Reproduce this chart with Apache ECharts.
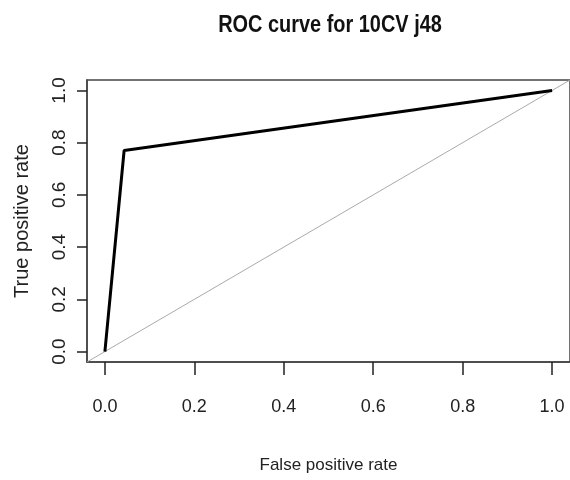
<!DOCTYPE html>
<html>
<head>
<meta charset="utf-8">
<script src="https://cdn.jsdelivr.net/npm/echarts@6/dist/echarts.min.js"></script>
<style>
  * { margin: 0; padding: 0; }
  body { background: #fff; }
  #main { width: 570px; height: 480px; }
</style>
</head>
<body>
<div id="main"></div>
<script>
  // ROC points (false positive rate, true positive rate)
  var fpr = [0, 0.043, 1];
  var tpr = [0, 0.77, 1];
  // chance line, drawn across the whole plot region like abline()
  var chanceX = [-0.04, 1.04];
  var chanceY = [-0.04, 1.04];
  var tickValues = [0, 0.2, 0.4, 0.6, 0.8, 1];

  var font = "'Liberation Sans', Arial, sans-serif";

  var rocData = fpr.map(function (x, i) { return [x, tpr[i]]; });
  var chanceData = chanceX.map(function (x, i) { return [x, chanceY[i]]; });

  var chart = echarts.init(document.getElementById('main'));
  chart.setOption({
    animation: false,
    graphic: [{
      // title, squeezed a bit to look like the narrow R font
      type: 'text',
      x: 330,
      y: 25,
      scaleX: 0.83,
      style: {
        text: 'ROC curve for 10CV j48',
        fontFamily: font, fontWeight: 'bold', fontSize: 24,
        fill: '#111', align: 'center', verticalAlign: 'middle'
      }
    }],
    grid: {
      left: 87, top: 80, right: -1, bottom: 118,
      show: true,
      borderColor: '#444',
      borderWidth: 1.5,
      containLabel: false
    },
    xAxis: {
      type: 'value',
      min: -0.04,
      max: 1.04,
      name: 'False positive rate',
      nameLocation: 'middle',
      nameGap: 95,
      nameTextStyle: { fontFamily: font, fontSize: 17, color: '#222' },
      axisLine: { show: true, onZero: false, lineStyle: { color: '#444', width: 1.5 } },
      splitLine: { show: false },
      axisTick: {
        show: true, inside: false, length: 13, customValues: tickValues,
        lineStyle: { color: '#222', width: 1.5 }
      },
      axisLabel: {
        customValues: tickValues,
        margin: 36,
        fontFamily: font, fontSize: 18, color: '#222',
        formatter: function (v) { return v.toFixed(1); }
      }
    },
    yAxis: {
      type: 'value',
      min: -0.04,
      max: 1.04,
      name: 'True positive rate',
      nameLocation: 'middle',
      nameGap: 55,
      nameTextStyle: { fontFamily: font, fontSize: 20, color: '#222' },
      axisLine: { show: true, onZero: false, lineStyle: { color: '#444', width: 1.5 } },
      splitLine: { show: false },
      axisTick: {
        show: true, inside: false, length: 10, customValues: tickValues,
        lineStyle: { color: '#222', width: 1.5 }
      },
      axisLabel: {
        customValues: tickValues,
        rotate: 90,
        margin: 18,
        fontFamily: font, fontSize: 19, color: '#222',
        formatter: function (v) { return v.toFixed(1); }
      }
    },
    series: [{
      type: 'line',
      data: chanceData,
      symbol: 'none',
      silent: true,
      lineStyle: { color: '#aaaaaa', width: 1 }
    }, {
      type: 'line',
      data: rocData,
      symbol: 'none',
      lineStyle: { color: '#000', width: 3 }
    }]
  });
</script>
</body>
</html>
